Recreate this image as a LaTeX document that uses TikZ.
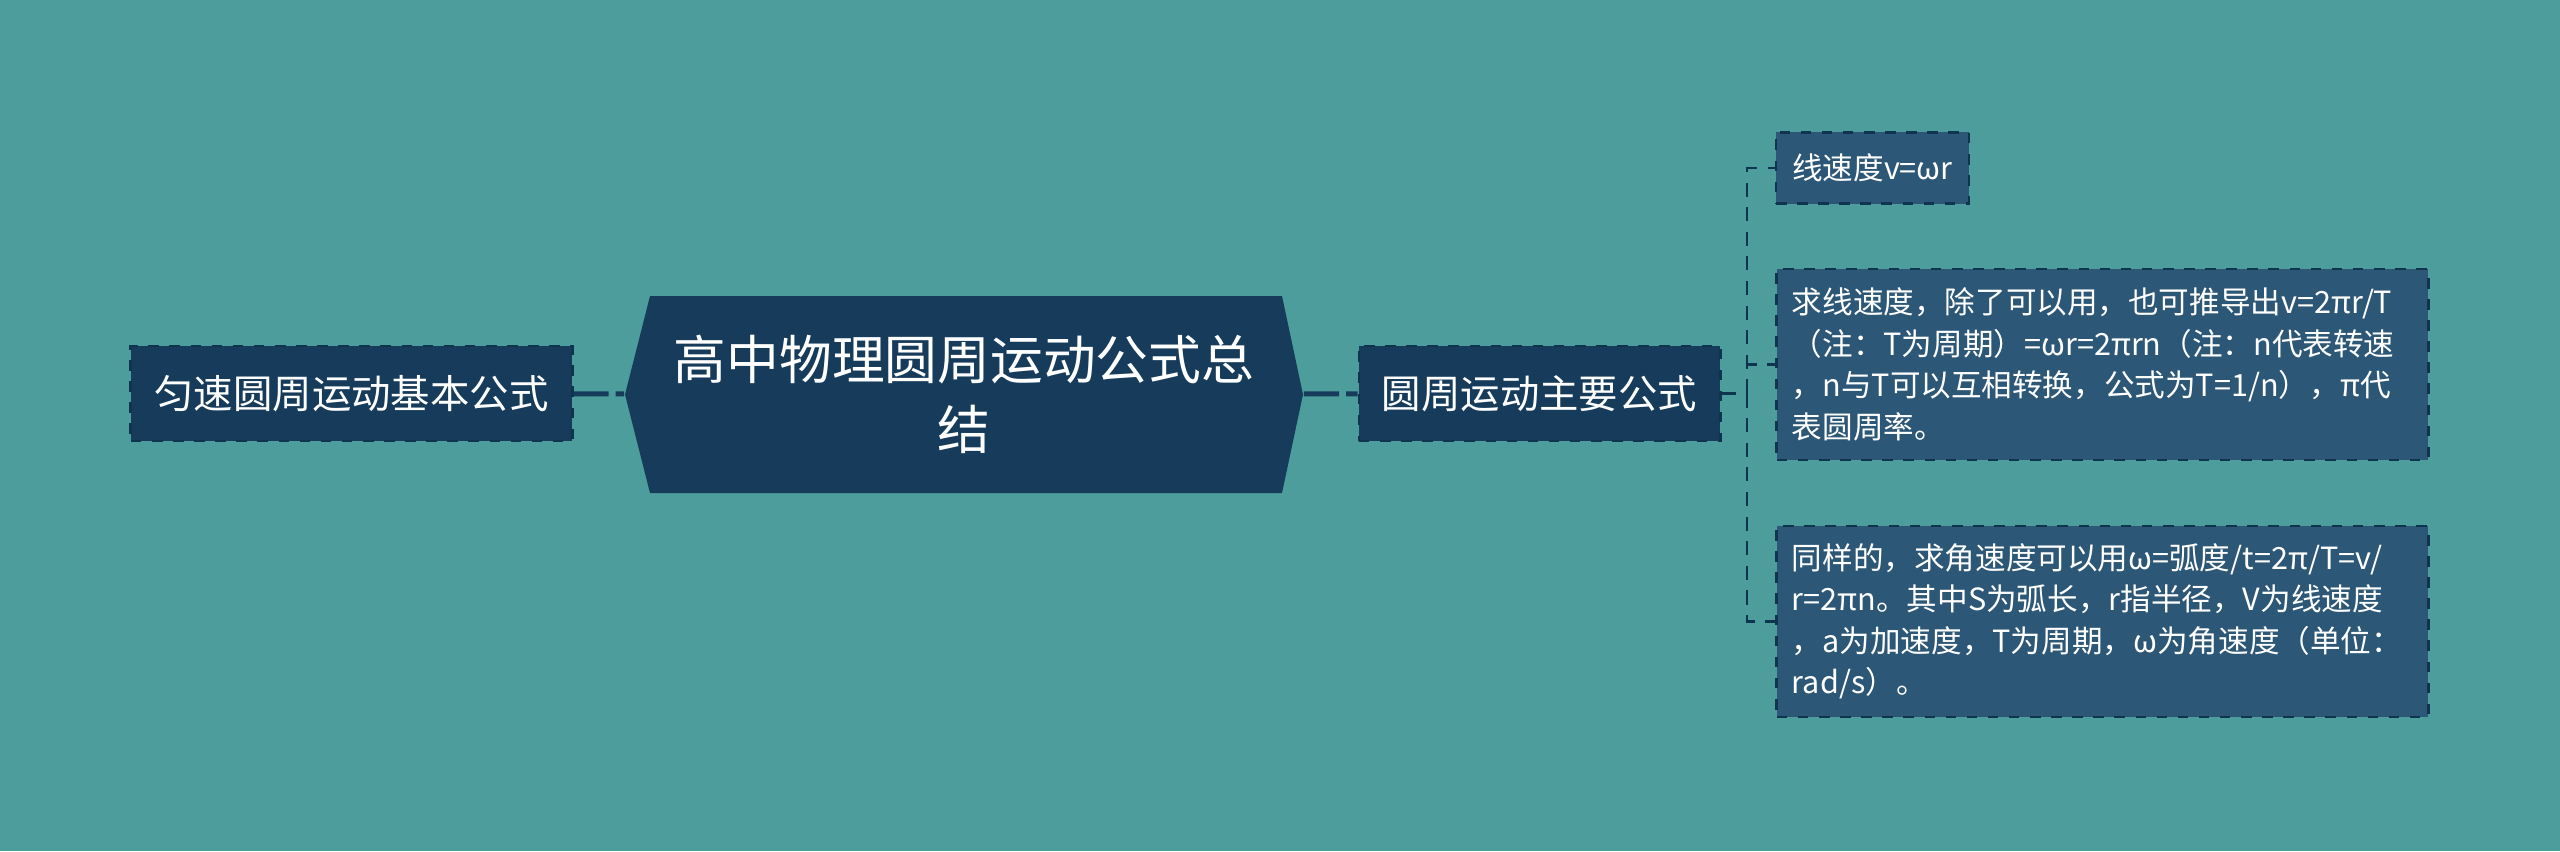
\documentclass[tikz,border=0pt]{standalone}
\usepackage{fontspec}
\setmainfont{Noto Sans CJK SC}
\definecolor{tealbg}{HTML}{4E9D9D}
\definecolor{navy}{HTML}{173C5B}
\definecolor{leafblue}{HTML}{2D5776}
\definecolor{rim}{HTML}{0F3450}
\tikzset{
  topicbox/.style={fill=navy, draw=rim, dashed, line width=0.8pt, text=white, inner sep=0pt, font=\fontsize{11.2pt}{14pt}\selectfont},
  leafbox/.style={fill=leafblue, draw=rim, dashed, line width=0.8pt, text=white, inner sep=0pt, font=\fontsize{8.7pt}{11.8pt}\selectfont},
  link/.style={draw=navy, line width=1.4pt, dash pattern=on 10pt off 2pt},
  twig/.style={draw=rim, line width=0.6pt, dash pattern=on 4pt off 3pt}
}
\begin{document}
\begin{tikzpicture}[x=0.01cm, y=-0.01cm]
  \fill[tealbg] (0,0) rectangle (2560,851);
  \fill[navy] (650,296) -- (1282,296) -- (1303,394.5) -- (1282,493) -- (650,493) -- (625,394.5) -- cycle;
  \node[text=white, minimum width=6.78cm, minimum height=1.97cm, align=center, font=\fontsize{15pt}{20pt}\selectfont] (root) at (964,394.5) {高中物理圆周运动公式总\\结};

  \node[topicbox, minimum width=4.41cm, minimum height=0.95cm] (basic) at (351.5,393.5) {匀速圆周运动基本公式};
  \node[topicbox, minimum width=3.61cm, minimum height=0.95cm] (main) at (1539.5,393.5) {圆周运动主要公式};

  \node[leafbox, minimum width=1.93cm, minimum height=0.71cm] (speed) at (1872.5,168) {线速度v=ωr};
  \node[leafbox, minimum width=6.51cm, minimum height=1.91cm, text width=6.21cm, align=left] (derive) at (2102.5,364.5) {求线速度，除了可以用，也可推导出v=2πr/T\\（注：T为周期）=ωr=2πrn（注：n代表转速\\，n与T可以互相转换，公式为T=1/n），π代\\表圆周率。};
  \node[leafbox, minimum width=6.51cm, minimum height=1.91cm, text width=6.21cm, align=left] (angular) at (2102.5,621.5) {同样的，求角速度可以用ω=弧度/t=2π/T=v/\\r=2πn。其中S为弧长，r指半径，V为线速度\\，a为加速度，T为周期，ω为角速度（单位：\\rad/s）。};

  \draw[link] (basic) -- (root);
  \draw[link] (root) -- (main);
  \coordinate (fork) at (1747,393.5);
  \draw[twig] (main) -- (fork);
  \draw[twig] (fork) |- (speed);
  \draw[twig] (fork) |- (derive);
  \draw[twig] (fork) |- (angular);
\end{tikzpicture}
\end{document}
